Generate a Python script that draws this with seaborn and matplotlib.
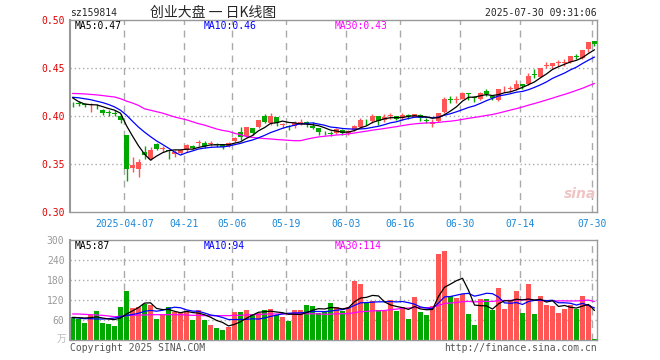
import numpy as np
import pandas as pd
import matplotlib
matplotlib.use("Agg")
import matplotlib.pyplot as plt
import seaborn as sns

# 创业大盘 (sz159814) 日K, 2025-03-24 ~ 2025-07-30, 88 个交易日
open_ = [0.413, 0.4135, 0.412, 0.411, 0.4105, 0.406, 0.4035, 0.403, 0.400, 0.380,
         0.346, 0.345, 0.363, 0.355, 0.371, 0.366, 0.364, 0.3605, 0.361, 0.3645,
         0.369, 0.372, 0.372, 0.371, 0.3703, 0.370, 0.369, 0.374, 0.3835, 0.379,
         0.3875, 0.389, 0.400, 0.3925, 0.399, 0.3905, 0.3892, 0.3893, 0.3915, 0.3938,
         0.390, 0.387, 0.3822, 0.382, 0.382, 0.3855, 0.382, 0.3855, 0.389, 0.397,
         0.3945, 0.400, 0.396, 0.3995, 0.3995, 0.3977, 0.4005, 0.3993, 0.4015, 0.3955,
         0.3914, 0.395, 0.4045, 0.417, 0.4165, 0.418, 0.4232, 0.420, 0.418, 0.4257,
         0.421, 0.4167, 0.4277, 0.428, 0.428, 0.4335, 0.4335, 0.443, 0.441, 0.4525,
         0.4522, 0.4553, 0.455, 0.4567, 0.462, 0.460, 0.470, 0.4778]
high = [0.415, 0.4155, 0.414, 0.414, 0.413, 0.407, 0.406, 0.406, 0.402, 0.380,
        0.357, 0.355, 0.369, 0.3675, 0.3715, 0.3685, 0.365, 0.3645, 0.365, 0.371,
        0.370, 0.375, 0.3735, 0.374, 0.372, 0.371, 0.373, 0.3785, 0.3885, 0.389,
        0.388, 0.396, 0.4025, 0.4035, 0.399, 0.393, 0.391, 0.3945, 0.397, 0.3945,
        0.394, 0.388, 0.3845, 0.384, 0.388, 0.386, 0.385, 0.3905, 0.3975, 0.397,
        0.4025, 0.4005, 0.402, 0.403, 0.4003, 0.4028, 0.402, 0.402, 0.402, 0.3975,
        0.3965, 0.403, 0.420, 0.421, 0.4205, 0.4255, 0.4243, 0.421, 0.4245, 0.4278,
        0.4218, 0.428, 0.431, 0.431, 0.4375, 0.4335, 0.4445, 0.4487, 0.4505, 0.456,
        0.4555, 0.4583, 0.4595, 0.4625, 0.4643, 0.469, 0.4775, 0.478]
low = [0.409, 0.410, 0.409, 0.4045, 0.407, 0.401, 0.400, 0.400, 0.3925, 0.3325,
       0.342, 0.336, 0.355, 0.354, 0.3645, 0.362, 0.3555, 0.3575, 0.360, 0.3625,
       0.366, 0.369, 0.367, 0.369, 0.3675, 0.3655, 0.368, 0.373, 0.3755, 0.378,
       0.380, 0.388, 0.3925, 0.3905, 0.3895, 0.388, 0.3855, 0.3875, 0.391, 0.389,
       0.386, 0.3805, 0.380, 0.3795, 0.381, 0.3805, 0.380, 0.3845, 0.388, 0.3905,
       0.393, 0.3905, 0.394, 0.397, 0.3955, 0.3958, 0.397, 0.3985, 0.395, 0.3925,
       0.389, 0.394, 0.403, 0.4135, 0.4135, 0.4175, 0.4167, 0.415, 0.4165, 0.4212,
       0.4165, 0.4155, 0.425, 0.4245, 0.4268, 0.4278, 0.432, 0.440, 0.4405, 0.450,
       0.449, 0.452, 0.452, 0.4555, 0.459, 0.4595, 0.4665, 0.473]
close = [0.412, 0.413, 0.411, 0.412, 0.410, 0.403, 0.403, 0.4025, 0.396, 0.345,
         0.349, 0.352, 0.3595, 0.3645, 0.366, 0.3665, 0.3635, 0.3628, 0.3645, 0.3695,
         0.367, 0.3725, 0.369, 0.3715, 0.370, 0.368, 0.3715, 0.3775, 0.3785, 0.3885,
         0.3825, 0.396, 0.394, 0.400, 0.3925, 0.391, 0.3888, 0.3924, 0.394, 0.3915,
         0.388, 0.3838, 0.3818, 0.3815, 0.3865, 0.382, 0.3845, 0.3895, 0.396, 0.3965,
         0.400, 0.3945, 0.3986, 0.4013, 0.397, 0.401, 0.400, 0.402, 0.3976, 0.395,
         0.394, 0.4028, 0.4177, 0.4165, 0.417, 0.4236, 0.4228, 0.4185, 0.4236, 0.423,
         0.4185, 0.4278, 0.428, 0.4287, 0.4333, 0.4313, 0.4417, 0.4425, 0.4503, 0.453,
         0.455, 0.4557, 0.4555, 0.4625, 0.4615, 0.4688, 0.477, 0.475]

ma5 = [0.419, 0.415, 0.4125, 0.4118, 0.4116, 0.4098, 0.4078, 0.4061, 0.4029, 0.3899,
       0.3791, 0.3689, 0.3603, 0.354, 0.3582, 0.3617, 0.364, 0.3647, 0.3647, 0.3654,
       0.3655, 0.3673, 0.3685, 0.3699, 0.370, 0.3702, 0.370, 0.3717, 0.3731, 0.3768,
       0.3797, 0.3846, 0.3879, 0.3922, 0.393, 0.3947, 0.3933, 0.3929, 0.3917, 0.3915,
       0.3909, 0.3899, 0.3878, 0.3853, 0.3843, 0.3831, 0.3833, 0.3848, 0.3877, 0.3897,
       0.3933, 0.3953, 0.3971, 0.3982, 0.3983, 0.3985, 0.3996, 0.4003, 0.3995, 0.3991,
       0.3977, 0.3983, 0.4014, 0.4052, 0.4096, 0.4155, 0.4195, 0.4197, 0.4211, 0.4223,
       0.4213, 0.4223, 0.4242, 0.4252, 0.4273, 0.4298, 0.4326, 0.4355, 0.4398, 0.4438,
       0.4485, 0.4513, 0.4539, 0.4563, 0.458, 0.4608, 0.4651, 0.469]
ma10 = [0.4195, 0.419, 0.418, 0.417, 0.4155, 0.414, 0.412, 0.4095, 0.406, 0.4008,
        0.3945, 0.3884, 0.3832, 0.3785, 0.3741, 0.3704, 0.3665, 0.3625, 0.3593, 0.3618,
        0.3636, 0.3656, 0.3666, 0.3673, 0.3677, 0.3678, 0.3686, 0.3701, 0.3715, 0.3734,
        0.375, 0.3773, 0.3798, 0.3827, 0.3849, 0.3872, 0.3889, 0.3904, 0.392, 0.3923,
        0.3928, 0.3916, 0.3904, 0.3885, 0.3879, 0.387, 0.3866, 0.3863, 0.3865, 0.387,
        0.3882, 0.3893, 0.391, 0.3929, 0.394, 0.3959, 0.3974, 0.3987, 0.3989, 0.3987,
        0.3981, 0.3989, 0.4008, 0.4024, 0.4044, 0.4066, 0.4089, 0.4106, 0.4132, 0.416,
        0.4184, 0.4209, 0.4219, 0.4232, 0.4248, 0.4256, 0.4274, 0.4298, 0.4325, 0.4355,
        0.4392, 0.442, 0.4447, 0.4481, 0.4509, 0.4547, 0.4582, 0.4614]
ma30 = [0.4235, 0.4233, 0.423, 0.4225, 0.422, 0.4213, 0.4205, 0.4198, 0.418, 0.4155,
        0.4135, 0.411, 0.4075, 0.406, 0.4045, 0.403, 0.401, 0.399, 0.3975, 0.396,
        0.394, 0.392, 0.3905, 0.3885, 0.3865, 0.385, 0.384, 0.382, 0.3805, 0.3786,
        0.3777, 0.3771, 0.3765, 0.3761, 0.3755, 0.3751, 0.3747, 0.3743, 0.3743, 0.3758,
        0.3771, 0.3782, 0.3789, 0.3795, 0.3802, 0.3807, 0.3814, 0.3823, 0.3833, 0.3842,
        0.3853, 0.3861, 0.387, 0.388, 0.3889, 0.39, 0.391, 0.3918, 0.3924, 0.3927,
        0.393, 0.3933, 0.3941, 0.3946, 0.3954, 0.3965, 0.3976, 0.3985, 0.3995, 0.4006,
        0.4016, 0.403, 0.4046, 0.4062, 0.4077, 0.4094, 0.4113, 0.413, 0.4148, 0.4167,
        0.4186, 0.4206, 0.4225, 0.4245, 0.4267, 0.4289, 0.4315, 0.4339]

# 成交量 (万)
volume = [68, 63, 52, 76, 88, 51, 48, 43, 100, 148,
          97, 99, 109, 105, 64, 79, 100, 83, 83, 85,
          61, 91, 59, 46, 37, 31, 38, 83, 85, 89,
          78, 81, 91, 94, 76, 68, 57, 91, 90, 105,
          103, 81, 86, 112, 100, 87, 99, 176, 167, 111,
          116, 91, 87, 121, 88, 99, 64, 130, 85, 76,
          103, 259, 268, 133, 127, 139, 79, 46, 124, 124,
          91, 157, 94, 121, 148, 82, 169, 79, 133, 106,
          103, 82, 94, 106, 94, 133, 106, 4]
vol_ma5 = [68, 67, 66, 67, 69.4, 66, 63, 61.2, 66, 78,
           87.2, 97.4, 110.6, 111.6, 94.8, 91.2, 91.4, 86.2, 81.8, 86,
           82.4, 80.6, 75.8, 68.4, 58.8, 52.8, 42.2, 47, 54.8, 65.2,
           74.6, 83.2, 84.8, 86.6, 84.0, 82.0, 77.2, 77.2, 76.4, 82.2,
           89.2, 94, 93, 97.4, 96.4, 93.2, 96.8, 114.8, 125.8, 128,
           133.8, 132.2, 114.4, 105.2, 100.6, 97.2, 91.8, 100.4, 93.2, 90.8,
           91.6, 130.6, 158.2, 167.8, 178, 185.2, 149.2, 104.8, 103, 102.4,
           92.8, 108.4, 118, 117.4, 122.2, 120.4, 122.8, 119.8, 122.2, 113.8,
           118, 100.6, 103.6, 98.2, 95.8, 101.8, 106.6, 88.6]
vol_ma10 = [67, 66, 64, 64, 63, 63, 64, 66, 70, 73.7,
            76.6, 80.2, 85.9, 88.8, 86.4, 89.2, 94.4, 98.4, 96.7, 90.4,
            86.8, 86, 81, 75.1, 72.4, 67.6, 61.4, 61.4, 61.6, 62,
            63.7, 62.7, 65.9, 70.7, 74.6, 78.3, 80.2, 81.0, 81.5, 83.1,
            85.6, 85.6, 85.1, 86.9, 89.3, 91.2, 95.4, 103.9, 111.6, 112.2,
            113.5, 114.5, 114.6, 115.5, 114.3, 115.5, 112, 107.4, 99.2, 95.7,
            94.4, 111.2, 129.3, 130.5, 134.4, 138.4, 139.9, 131.5, 135.4, 140.2,
            139, 128.8, 111.4, 110.2, 112.3, 106.6, 115.6, 118.9, 119.8, 118,
            119.2, 111.7, 111.7, 110.2, 104.8, 109.9, 103.6, 96.1]
vol_ma30 = [78, 78, 77, 76, 75, 74, 72, 70, 71, 73,
            74, 75, 75, 76, 76, 76, 76, 76, 76, 75,
            74, 74, 73, 73, 73, 73, 73, 74, 74, 75.4,
            75.7, 76.3, 77.6, 78.2, 77.8, 78.4, 78.6, 80.2, 79.9, 78.5,
            78.7, 78.1, 77.3, 77.5, 78.7, 79.0, 79.0, 82.1, 84.9, 85.7,
            87.6, 87.6, 88.5, 91.0, 92.7, 95.0, 95.8, 97.4, 97.4, 97.0,
            97.8, 103.7, 109.6, 110.9, 112.6, 115.1, 115.8, 114.3, 115.4, 116,
            115.6, 118.2, 118.4, 118.7, 120.3, 120.2, 122.5, 119.3, 118.1, 118,
            117.5, 117.2, 117.5, 117, 117.2, 118.3, 119.7, 115.5]

tick_pos = [9, 19, 27, 36, 46, 55, 65, 75, 87]
tick_labels = ['2025-04-07', '04-21', '05-06', '05-19', '06-03',
               '06-16', '06-30', '07-14', '07-30']
price_ticks = [0.30, 0.35, 0.40, 0.45, 0.50]
vol_ticks = [0, 60, 120, 180, 240, 300]

RED = '#ff5555'
GREEN = '#00a800'
GRID = '#aaaaaa'
MONO = ['DejaVu Sans Mono', 'Noto Sans CJK SC']

df = pd.DataFrame({
    'idx': np.arange(len(close)), 'open': open_, 'high': high, 'low': low,
    'close': close, 'ma5': ma5, 'ma10': ma10, 'ma30': ma30,
    'volume': volume, 'vma5': vol_ma5, 'vma10': vol_ma10, 'vma30': vol_ma30,
})
df['dir'] = np.where(df['close'] >= df['open'], 'up', 'down')
bar_colors = df['dir'].map({'up': RED, 'down': GREEN})

sns.set_theme(style='white')
plt.rcParams['font.family'] = MONO

W, H = 660, 360
fig = plt.figure(figsize=(6.6, 3.6), dpi=100)
ax = fig.add_axes([70 / W, 1 - 212 / H, 527 / W, 192 / H])
axv = fig.add_axes([70 / W, 1 - 340 / H, 527 / W, 100 / H])

# K线
ax.vlines(df['idx'], df['low'], df['high'], colors=bar_colors, lw=1, zorder=2)
body = (df['close'] - df['open']).abs().clip(lower=0.0008)
ax.bar(df['idx'], body, bottom=df[['open', 'close']].min(axis=1), width=0.83,
       color=bar_colors, lw=0, zorder=3)

for col, c in [('ma30', '#ff00ff'), ('ma10', '#0000ff'), ('ma5', 'black')]:
    sns.lineplot(data=df, x='idx', y=col, color=c, lw=0.9, ax=ax, zorder=4)

# 成交量
sns.barplot(data=df, x='idx', y='volume', hue='dir',
            palette={'up': RED, 'down': GREEN}, native_scale=True, dodge=False,
            width=0.83, saturation=1, errorbar=None, legend=False, linewidth=0,
            ax=axv, zorder=2)
for col, c in [('vma30', '#ff00ff'), ('vma10', '#0000ff'), ('vma5', 'black')]:
    sns.lineplot(data=df, x='idx', y=col, color=c, lw=0.9, ax=axv, zorder=4)

# 网格: 竖向虚线 + 横向点线
grid_x = [p - 0.37 for p in tick_pos]
for a, hy in ((ax, price_ticks[1:-1]), (axv, vol_ticks[1:-1])):
    a.set_xlim(-0.42, 87.42)
    a.set_xlabel('')
    a.set_ylabel('')
    for g in grid_x:
        a.axvline(g, color=GRID, lw=1, ls=(0, (5, 4)), zorder=1)
    for g in hy:
        a.axhline(g, color=GRID, lw=1, ls=(0, (1, 2)), zorder=1)
    for s in a.spines.values():
        s.set_color('#999999')
        s.set_linewidth(1)
    a.spines['left'].set_linewidth(1.5)
    a.tick_params(length=0, labelsize=7)

ax.set_ylim(0.30, 0.50)
ax.set_yticks(price_ticks, [f'{v:.2f}' for v in price_ticks])
ax.set_xticks(grid_x, tick_labels)
ax.tick_params(axis='y', pad=4, labelcolor='#e00000')
ax.tick_params(axis='x', pad=5, labelcolor='#1a88d8')

axv.set_ylim(0, 300)
axv.set_yticks(vol_ticks, [''] + [str(v) for v in vol_ticks[1:]])
axv.set_xticks(grid_x, [''] * len(grid_x))
axv.tick_params(axis='y', pad=4, labelcolor='#999999')


def put(x, y, s, size=7, **kw):
    fig.text(x / W, 1 - y / H, s, va='center', fontsize=size, **kw)


put(70, 13, 'sz159814', ha='left')
put(213, 13, '创业大盘 一 日K线图', ha='center', size=10,
    family=['Noto Sans CJK SC', 'DejaVu Sans'])
put(597, 13, '2025-07-30 09:31:06', ha='right')
put(75, 26, 'MA5:0.47', ha='left', color='black')
put(204, 26, 'MA10:0.46', ha='left', color='#0000ff')
put(335, 26, 'MA30:0.43', ha='left', color='#ff00ff')
put(75, 246, 'MA5:87', ha='left', color='black')
put(204, 246, 'MA10:94', ha='left', color='#0000ff')
put(335, 246, 'MA30:114', ha='left', color='#ff00ff')
put(66, 339, '万', ha='right', color='#bbbbbb', family=['Noto Sans CJK SC'])
put(70, 348, 'Copyright 2025 SINA.COM', ha='left', color='#555555')
put(597, 348, 'http://finance.sina.com.cn', ha='right', color='#555555')
put(580, 194, 'sina', ha='center', size=10, color='#f0c4c4',
    fontweight='bold', style='italic', family=['DejaVu Sans'])

fig.savefig('out.png', dpi=100)
